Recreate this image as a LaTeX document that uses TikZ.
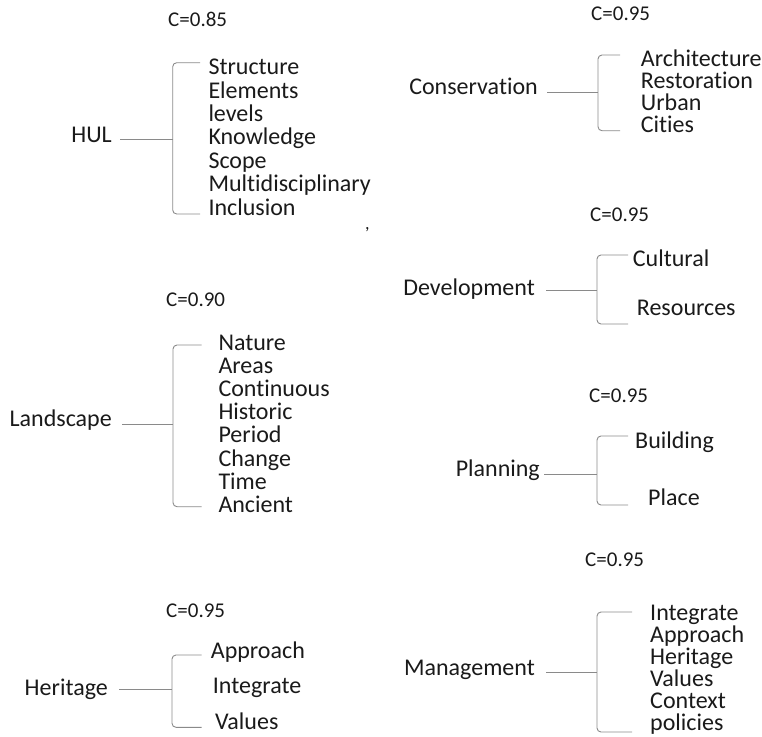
\documentclass[tikz,border=0pt]{standalone}
\usepackage{fontspec}
\setmainfont{Carlito}[Ligatures={NoCommon}]
\definecolor{ink}{HTML}{1A1A1A}
\definecolor{rule}{HTML}{8A8A8A}
\begin{document}
\begin{tikzpicture}[x=1pt,y=-1pt,
  term/.style={anchor=base west,inner sep=0pt,text=ink,font=\fontsize{24}{24}\selectfont},
  head/.style={anchor=base east,inner sep=0pt,text=ink,font=\fontsize{24}{24}\selectfont},
  score/.style={anchor=base west,inner sep=0pt,text=ink,font=\fontsize{21}{21}\selectfont},
  link/.style={draw=rule,line width=0.9pt},
  brace/.style={draw=rule,line width=0.9pt,rounded corners=4pt}]
\useasboundingbox (0,0) rectangle (762,736);

% ---------- HUL ----------
\node[score] (c1) at (168,26.7) {C=0.85};
\node[head] (hul) at (112,142) {HUL};
\coordinate (hulb) at (172.7,139);
\draw[brace] (200,62.7) -- (172.7,62.7) -- (172.7,214) -- (200,214);
\draw[link] ([xshift=8pt]hul.east |- hulb) -- (hulb);
\foreach \w [count=\k from 0] in {Structure,Elements,levels,Knowledge,Scope,Multidisciplinary,Inclusion}
  \node[term] (hul\k) at (208.3,74.7+23.4*\k) {\w};
\node[score,font=\fontsize{18}{18}\selectfont] (tick) at (365,229) {,};

% ---------- Conservation ----------
\node[score] (c2) at (591,20.7) {C=0.95};
\node[head] (cons) at (538,94) {Conservation};
\coordinate (consb) at (598,92.3);
\draw[brace] (620,55) -- (598,55) -- (598,130.7) -- (620,130.7);
\draw[link] ([xshift=9pt]cons.east |- consb) -- (consb);
\foreach \w [count=\k from 0] in {Architecture,Restoration,Urban,Cities}
  \node[term] (cons\k) at (640.7,66.7+22*\k) {\w};

% ---------- Development ----------
\node[score] (c3) at (590,221.7) {C=0.95};
\node[head] (dev) at (535,295) {Development};
\coordinate (devb) at (597,290);
\draw[brace] (628,255) -- (597,255) -- (597,324) -- (628,324);
\draw[link] ([xshift=11pt]dev.east |- devb) -- (devb);
\node[term] (dev0) at (632.7,266.7) {Cultural};
\node[term] (dev1) at (636.7,315.7) {Resources};

% ---------- Planning ----------
\node[score] (c4) at (589,402.7) {C=0.95};
\node[head] (plan) at (540,476.7) {Planning};
\coordinate (planb) at (597,474);
\draw[brace] (628,436) -- (597,436) -- (597,505) -- (628,505);
\draw[link] ([xshift=4pt]plan.east |- planb) -- (planb);
\node[term] (plan0) at (635,448) {Building};
\node[term] (plan1) at (648,505) {Place};

% ---------- Management ----------
\node[score] (c5) at (585,566.7) {C=0.95};
\node[head] (mgmt) at (535,675) {Management};
\coordinate (mgmtb) at (597,672);
\draw[brace] (632,612) -- (597,612) -- (597,732) -- (632,732);
\draw[link] ([xshift=11pt]mgmt.east |- mgmtb) -- (mgmtb);
\foreach \w [count=\k from 0] in {Integrate,Approach,Heritage,Values,Context,policies}
  \node[term] (mgmt\k) at (650,620+22*\k) {\w};

% ---------- Landscape ----------
\node[score] (c6) at (166,306.7) {C=0.90};
\node[head] (land) at (112,426.7) {Landscape};
\coordinate (landb) at (173,424.3);
\draw[brace] (201.7,345) -- (173,345) -- (173,506.7) -- (201.7,506.7);
\draw[link] ([xshift=10pt]land.east |- landb) -- (landb);
\foreach \w [count=\k from 0] in {Nature,Areas,Continuous,Historic,Period,Change,Time,Ancient}
  \node[term] (land\k) at (218.3,350+23.24*\k) {\w};

% ---------- Heritage ----------
\node[score] (c7) at (166,617.3) {C=0.95};
\node[head] (her) at (108,695) {Heritage};
\coordinate (herb) at (172,689);
\draw[brace] (201.7,655) -- (172,655) -- (172,727.3) -- (201.7,727.3);
\draw[link] ([xshift=11pt]her.east |- herb) -- (herb);
\node[term] (her0) at (210.7,658.3) {Approach};
\node[term] (her1) at (212.7,693.3) {Integrate};
\node[term] (her2) at (215,729.3) {Values};
\end{tikzpicture}
\end{document}
